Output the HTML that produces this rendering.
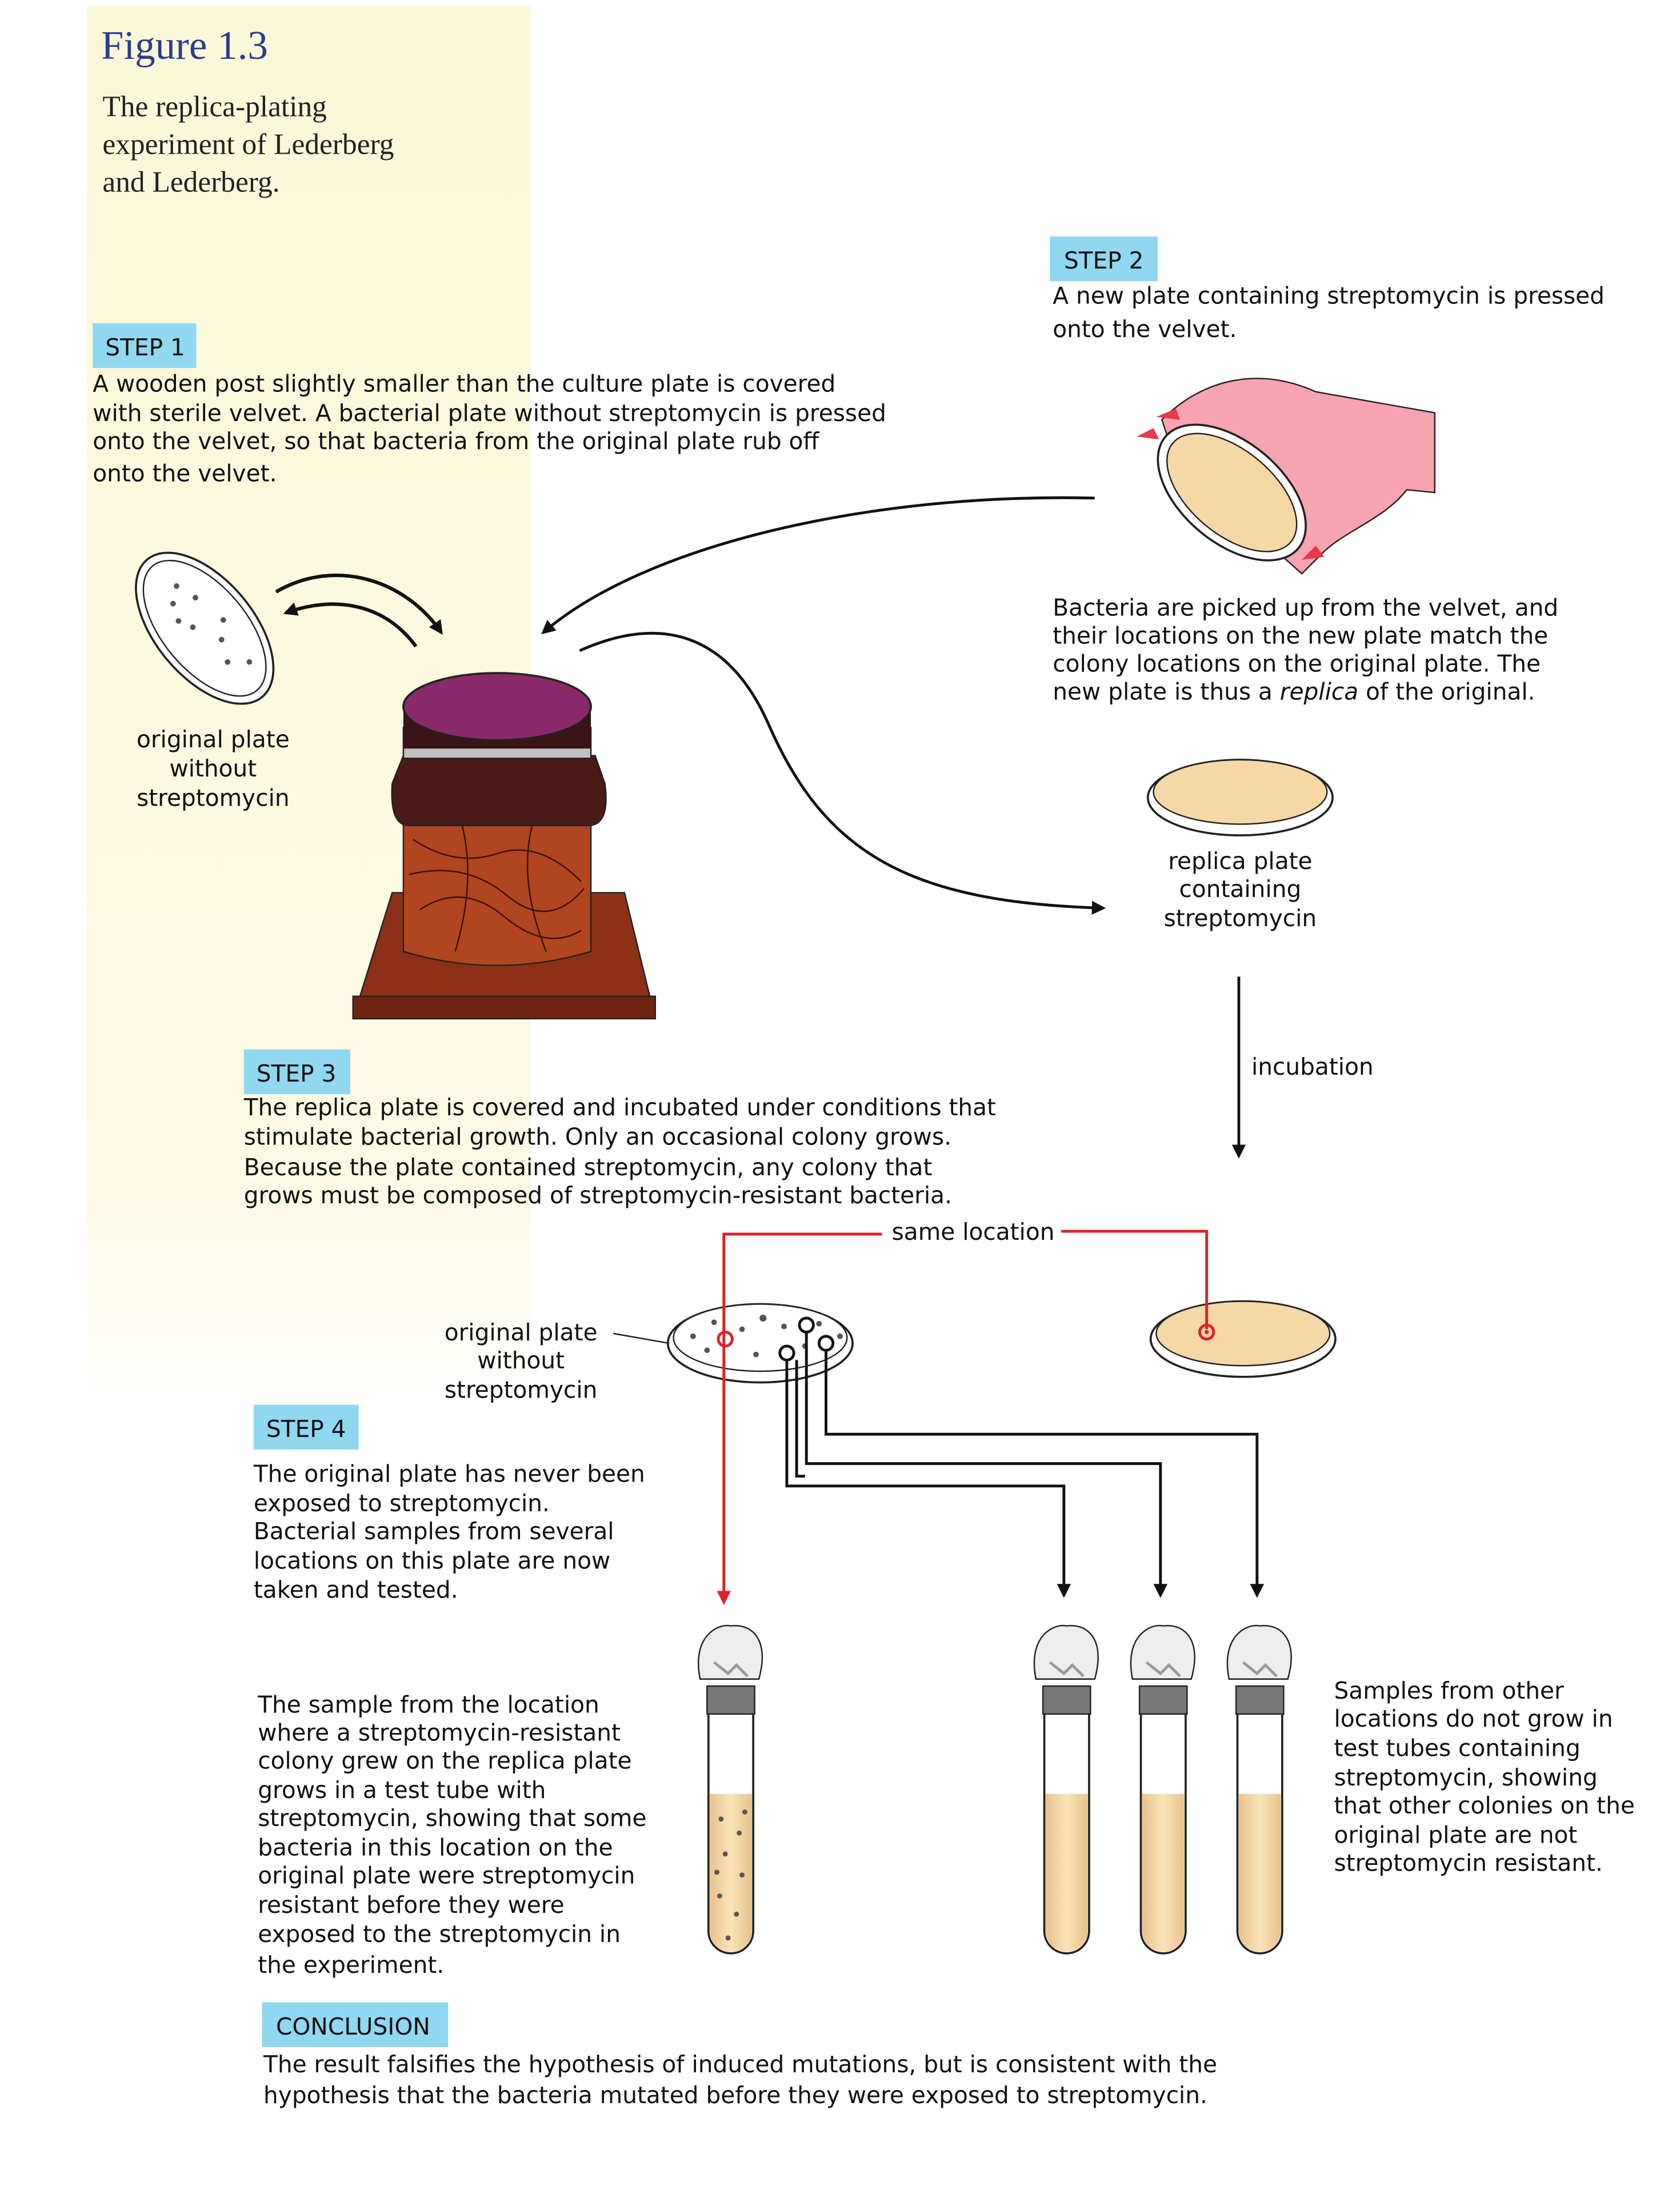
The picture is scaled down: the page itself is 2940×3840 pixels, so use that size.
<!DOCTYPE html>
<html><head><meta charset="utf-8"><style>
html,body{margin:0;padding:0;background:#fff}
svg{display:block}
.s{font-family:"DejaVu Sans","Liberation Sans",sans-serif;font-size:16.6px;fill:#111}
.f{font-family:"Liberation Serif",serif}
</style></head><body>
<svg width="2940" height="3840" viewBox="0 0 1200 1568" xmlns="http://www.w3.org/2000/svg">
<defs>
<linearGradient id="yg" x1="0" y1="0" x2="0" y2="1">
<stop offset="0" stop-color="#fbf8d9"/><stop offset="0.85" stop-color="#fcfae4"/><stop offset="1" stop-color="#ffffff"/>
</linearGradient>
<marker id="ar" markerWidth="10" markerHeight="10" refX="8" refY="5" orient="auto" markerUnits="userSpaceOnUse"><path d="M0,0 L10,5 L0,10 Z" fill="#111"/></marker>
<marker id="arr" markerWidth="10" markerHeight="10" refX="8" refY="5" orient="auto" markerUnits="userSpaceOnUse"><path d="M0,0 L10,5 L0,10 Z" fill="#e0202a"/></marker>
<linearGradient id="tube" x1="0" x2="1"><stop offset="0" stop-color="#e8c28e"/><stop offset="0.5" stop-color="#fbe2b8"/><stop offset="1" stop-color="#e8c28e"/></linearGradient>
<g id="t">
<path d="M-16,1222 L-16,1380 A16,16 0 0 0 16,1380 L16,1222 Z" fill="#fff" stroke="#222" stroke-width="1.5"/>
<path d="M-15,1282 L-15,1380 A15,15 0 0 0 15,1380 L15,1282 Z" fill="url(#tube)"/>
<rect x="-17" y="1205" width="34" height="20" fill="#777" stroke="#222"/>
<path d="M-22,1200 C-28,1170 -10,1160 0,1162 C15,1160 28,1172 20,1200 Z" fill="#eee" stroke="#222"/>
<path d="M-12,1188 l10,8 l6,-6 l8,8" stroke="#999" fill="none" stroke-width="2"/>
</g>
</defs>
<rect width="1200" height="1568" fill="#fff"/>
<rect x="62" y="4" width="317" height="1000" fill="url(#yg)"/>

<text x="72" y="42" class="f" font-size="29" fill="#2b3d8f">Figure 1.3</text>
<g class="f" font-size="21" fill="#222">
<text x="73" y="83">The replica-plating</text>
<text x="73" y="110">experiment of Lederberg</text>
<text x="73" y="137">and Lederberg.</text>
</g>

<rect x="66" y="231" width="74" height="32" fill="#8fd8f0"/><text x="75" y="254" class="s">STEP 1</text>
<rect x="750" y="169" width="77" height="32" fill="#8fd8f0"/><text x="760" y="192" class="s">STEP 2</text>
<rect x="174" y="750" width="76" height="32" fill="#8fd8f0"/><text x="183" y="773" class="s">STEP 3</text>
<rect x="181" y="1004" width="75" height="32" fill="#8fd8f0"/><text x="190" y="1027" class="s">STEP 4</text>
<rect x="187" y="1431" width="133" height="32" fill="#8fd8f0"/><text x="197" y="1454" class="s">CONCLUSION</text>

<g class="s">
<text x="66" y="280">A wooden post slightly smaller than the culture plate is covered</text>
<text x="66" y="301">with sterile velvet. A bacterial plate without streptomycin is pressed</text>
<text x="66" y="321">onto the velvet, so that bacteria from the original plate rub off</text>
<text x="66" y="344">onto the velvet.</text>
<text x="752" y="217">A new plate containing streptomycin is pressed</text>
<text x="752" y="241">onto the velvet.</text>
<text x="752" y="440">Bacteria are picked up from the velvet, and</text>
<text x="752" y="460">their locations on the new plate match the</text>
<text x="752" y="480">colony locations on the original plate. The</text>
<text x="752" y="500">new plate is thus a <tspan font-style="italic">replica</tspan> of the original.</text>
<text x="152" y="534" text-anchor="middle">original plate</text>
<text x="152" y="555" text-anchor="middle">without</text>
<text x="152" y="576" text-anchor="middle">streptomycin</text>
<text x="886" y="621" text-anchor="middle">replica plate</text>
<text x="886" y="641" text-anchor="middle">containing</text>
<text x="886" y="662" text-anchor="middle">streptomycin</text>
<text x="894" y="768">incubation</text>
<text x="174" y="797">The replica plate is covered and incubated under conditions that</text>
<text x="174" y="818">stimulate bacterial growth. Only an occasional colony grows.</text>
<text x="174" y="840">Because the plate contained streptomycin, any colony that</text>
<text x="174" y="860">grows must be composed of streptomycin-resistant bacteria.</text>
<text x="372" y="958" text-anchor="middle">original plate</text>
<text x="372" y="978" text-anchor="middle">without</text>
<text x="372" y="999" text-anchor="middle">streptomycin</text>
<text x="181" y="1059">The original plate has never been</text>
<text x="181" y="1080">exposed to streptomycin.</text>
<text x="181" y="1100">Bacterial samples from several</text>
<text x="181" y="1121">locations on this plate are now</text>
<text x="181" y="1142">taken and tested.</text>
<text x="184" y="1224">The sample from the location</text>
<text x="184" y="1244">where a streptomycin-resistant</text>
<text x="184" y="1264">colony grew on the replica plate</text>
<text x="184" y="1285">grows in a test tube with</text>
<text x="184" y="1305">streptomycin, showing that some</text>
<text x="184" y="1326">bacteria in this location on the</text>
<text x="184" y="1346">original plate were streptomycin</text>
<text x="184" y="1367">resistant before they were</text>
<text x="184" y="1388">exposed to the streptomycin in</text>
<text x="184" y="1410">the experiment.</text>
<text x="953" y="1214">Samples from other</text>
<text x="953" y="1234">locations do not grow in</text>
<text x="953" y="1255">test tubes containing</text>
<text x="953" y="1276">streptomycin, showing</text>
<text x="953" y="1296">that other colonies on the</text>
<text x="953" y="1317">original plate are not</text>
<text x="953" y="1337">streptomycin resistant.</text>
<text x="188" y="1481">The result falsifies the hypothesis of induced mutations, but is consistent with the</text>
<text x="188" y="1503">hypothesis that the bacteria mutated before they were exposed to streptomycin.</text>
</g>

<g transform="rotate(50 146 449)">
<ellipse cx="146" cy="449" rx="64" ry="35" fill="#fff" stroke="#222" stroke-width="1.5"/>
<ellipse cx="146" cy="449" rx="58" ry="30" fill="#fff" stroke="#222" stroke-width="1"/>
<g fill="#555"><circle cx="110" cy="445" r="2"/><circle cx="125" cy="440" r="2"/><circle cx="140" cy="455" r="2"/><circle cx="160" cy="445" r="2"/><circle cx="175" cy="452" r="2"/><circle cx="130" cy="460" r="2"/><circle cx="150" cy="435" r="2"/><circle cx="185" cy="440" r="2"/><circle cx="118" cy="455" r="2"/></g>
</g>
<path d="M197,423 C240,398 290,415 315,452" fill="none" stroke="#111" stroke-width="2.5" marker-end="url(#ar)"/>
<path d="M297,462 C275,432 240,425 204,438" fill="none" stroke="#111" stroke-width="2.5" marker-end="url(#ar)"/>

<polygon points="252,728 468,728 446,638 280,638" fill="#8c3018" stroke="#222"/>
<rect x="252" y="712" width="216" height="16" fill="#6f2410" stroke="#222"/>
<path d="M288,570 L288,680 Q355,700 422,680 L422,570 Z" fill="#b0451f" stroke="#222"/>
<g stroke="#3a1208" stroke-width="1" fill="none">
<path d="M295,600 q30,20 60,10 t60,20"/><path d="M292,625 q40,-10 70,15 t55,-5"/><path d="M300,650 q30,-20 60,5 t55,10"/><path d="M330,590 q10,40 -5,90"/><path d="M380,590 q-10,40 10,90"/>
</g>
<path d="M280,560 Q278,590 292,590 L420,590 Q436,590 432,560 L425,540 L288,540 Z" fill="#4a1a16" stroke="#222"/>
<rect x="288" y="520" width="134" height="22" fill="#c0c0c0" stroke="#222"/>
<rect x="288" y="505" width="134" height="30" fill="#3a1416"/>
<ellipse cx="355" cy="505" rx="67" ry="24" fill="#8a2a6a" stroke="#222" stroke-width="1.5"/>

<path d="M782,356 C620,352 460,390 388,452" fill="none" stroke="#111" stroke-width="2" marker-end="url(#ar)"/>
<path d="M414,465 C470,440 520,450 550,520 C590,610 650,645 788,649" fill="none" stroke="#111" stroke-width="2" marker-end="url(#ar)"/>

<path d="M830,300 C860,270 900,262 940,280 L1025,295 L1025,352 L1005,350 C990,370 960,380 945,395 L930,410 L840,330 Z" fill="#f7a4b0" stroke="#222"/>
<g transform="rotate(40 880 352)">
<ellipse cx="880" cy="352" rx="62" ry="36" fill="#fff" stroke="#222" stroke-width="1.5"/>
<ellipse cx="880" cy="352" rx="55" ry="30" fill="#f6d7a6" stroke="#222"/>
</g>
<path d="M812,312 l12,-6 l4,8 z M826,298 l14,-6 l3,8 z M930,400 l10,-10 l6,8 z" fill="#e8384a"/>

<ellipse cx="886" cy="570" rx="66" ry="27" fill="#fff" stroke="#222" stroke-width="1.5"/>
<ellipse cx="886" cy="566" rx="62" ry="23" fill="#f6d7a6" stroke="#222"/>

<line x1="885" y1="698" x2="885" y2="826" stroke="#111" stroke-width="2" marker-end="url(#ar)"/>

<ellipse cx="888" cy="957" rx="66" ry="27" fill="#fff" stroke="#222" stroke-width="1.5"/>
<ellipse cx="888" cy="953" rx="62" ry="23" fill="#f6d7a6" stroke="#222"/>

<ellipse cx="543" cy="960" rx="66" ry="28" fill="#fff" stroke="#222" stroke-width="1.5"/>
<ellipse cx="543" cy="956" rx="62" ry="24" fill="#fff" stroke="#222"/>
<g fill="#555"><circle cx="495" cy="955" r="2"/><circle cx="510" cy="945" r="2"/><circle cx="530" cy="950" r="2"/><circle cx="545" cy="942" r="2.5"/><circle cx="560" cy="948" r="2"/><circle cx="575" cy="962" r="2"/><circle cx="540" cy="968" r="2"/><circle cx="505" cy="965" r="2"/><circle cx="585" cy="946" r="2"/><circle cx="600" cy="955" r="2"/></g>
<line x1="438" y1="953" x2="478" y2="960" stroke="#222"/>

<g fill="none" stroke="#e0202a" stroke-width="2">
<polyline points="630,882 517,882 517,1145" marker-end="url(#arr)"/>
<polyline points="758,880 862,880 862,950"/>
<circle cx="518" cy="957" r="5"/><circle cx="862" cy="952" r="5"/>
</g>
<circle cx="862" cy="952" r="1.5" fill="#e0202a"/>
<text x="637" y="886" class="s" fill="#e0202a">same location</text>

<g fill="none" stroke="#111" stroke-width="2">
<circle cx="562" cy="967" r="5"/><circle cx="576" cy="947" r="5"/><circle cx="590" cy="960" r="5"/>
<polyline points="562,972 562,1062 760,1062 760,1140" marker-end="url(#ar)"/>
<polyline points="569,972 569,1055 575,1055"/>
<polyline points="576,952 576,1046 829,1046 829,1140" marker-end="url(#ar)"/>
<polyline points="590,965 590,1025 898,1025 898,1140" marker-end="url(#ar)"/>
</g>

<use href="#t" x="522"/>
<use href="#t" x="762"/>
<use href="#t" x="831"/>
<use href="#t" x="900"/>
<g fill="#555"><circle cx="515" cy="1300" r="1.8"/><circle cx="528" cy="1310" r="1.8"/><circle cx="518" cy="1325" r="1.8"/><circle cx="530" cy="1340" r="1.8"/><circle cx="514" cy="1355" r="1.8"/><circle cx="526" cy="1368" r="1.8"/><circle cx="520" cy="1385" r="1.8"/><circle cx="532" cy="1295" r="1.8"/><circle cx="512" cy="1338" r="1.8"/></g>
</svg>
</body></html>
